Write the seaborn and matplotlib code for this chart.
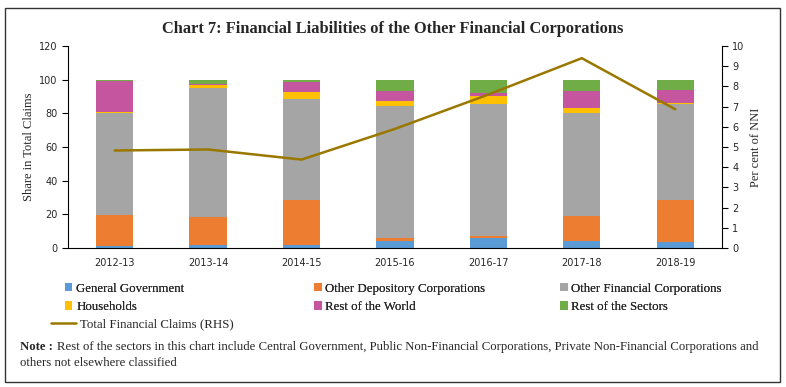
import numpy as np
import pandas as pd
import seaborn as sns
import matplotlib.pyplot as plt
from matplotlib.patches import Patch, Rectangle
from matplotlib.lines import Line2D

years = ['2012-13', '2013-14', '2014-15', '2015-16', '2016-17', '2017-18', '2018-19']
general_govt = [1.0, 1.6, 1.6, 4.0, 6.2, 4.4, 3.6]
other_depository = [18.4, 16.7, 27.2, 2.2, 1.1, 14.4, 24.8]
other_financial = [61.0, 76.5, 59.5, 77.9, 78.2, 61.4, 56.9]
households = [0.5, 2.0, 4.2, 3.4, 4.6, 2.9, 0.6]
rest_world = [18.6, 0.8, 6.1, 5.8, 1.8, 10.0, 7.8]
rest_sectors = [0.5, 2.4, 1.4, 6.7, 8.1, 6.9, 6.3]
total_claims = [4.83, 4.88, 4.38, 5.9, 7.6, 9.4, 6.87]

series_names = ['General Government', 'Other Depository Corporations', 'Other Financial Corporations',
                'Households', 'Rest of the World', 'Rest of the Sectors']
series_vals = [general_govt, other_depository, other_financial, households, rest_world, rest_sectors]
colors = ['#5B9BD5', '#ED7D31', '#A5A5A5', '#FFC000', '#C5559F', '#70AD47']
line_color = '#9A7800'

sns.set_style('white')
plt.rcParams['font.family'] = ['Liberation Serif', 'DejaVu Serif']

fig = plt.figure(figsize=(7.86, 3.87), dpi=100)
ax = fig.add_axes([0.0865, 0.359, 0.832, 0.522])

# cumulative stacks, drawn tallest first so lower pieces sit on top
df = pd.DataFrame(dict(zip(series_names, series_vals)), index=years)
cum = df.cumsum(axis=1)
for name, col in reversed(list(zip(series_names, colors))):
    sns.barplot(x=cum.index, y=cum[name].values, color=col, width=0.4, ax=ax,
                saturation=1, edgecolor='none', linewidth=0)

ax.set_xlabel('')
ax.set_ylim(0, 120)
ax.set_yticks(range(0, 121, 20))
ax.set_xlim(-0.5, len(years) - 0.5)
ax.set_xticks(range(len(years)))
ax.set_xticklabels(years)
ax.set_xticks(np.arange(-0.5, len(years), 1), minor=True)
ax.tick_params(axis='x', which='major', length=0, pad=7)
ax.tick_params(axis='x', which='minor', length=4, direction='out', color='black', width=0.8)
ax.tick_params(axis='y', length=4, direction='out', color='black', width=0.8, left=True)
for lab in ax.get_xticklabels() + ax.get_yticklabels():
    lab.set_fontfamily('DejaVu Sans')
    lab.set_fontsize(7)
ax.set_ylabel('Share in Total Claims', fontsize=9, labelpad=3)
ax.spines['top'].set_visible(False)
ax.spines['right'].set_visible(False)
for s in ['left', 'bottom']:
    ax.spines[s].set_color('black')
    ax.spines[s].set_linewidth(0.8)

ax2 = ax.twinx()
sns.lineplot(x=np.arange(len(years)), y=total_claims, ax=ax2, color=line_color, linewidth=1.8)
ax2.set_ylim(0, 10)
ax2.set_yticks(range(0, 11))
ax2.set_ylabel('Per cent of NNI', fontsize=9)
ax2.tick_params(axis='y', length=4, direction='out', color='black', width=0.8, right=True)
for lab in ax2.get_yticklabels():
    lab.set_fontfamily('DejaVu Sans')
    lab.set_fontsize(7)
ax2.spines['top'].set_visible(False)
ax2.spines['left'].set_visible(False)
ax2.spines['bottom'].set_visible(False)
ax2.spines['right'].set_color('black')
ax2.spines['right'].set_linewidth(0.8)

fig.text(0.5, 0.925, 'Chart 7: Financial Liabilities of the Other Financial Corporations',
         ha='center', va='center', fontsize=11.8, fontweight='bold')

# legend: one small legend per column so columns sit at fixed x positions
col_x = [0.083, 0.400, 0.713]
for c, x0 in enumerate(col_x):
    idx = [c, c + 3]
    lg = fig.legend([Patch(facecolor=colors[i], edgecolor='none') for i in idx],
                    [series_names[i] for i in idx], loc='upper left', bbox_to_anchor=(x0, 0.270),
                    frameon=False, fontsize=9.3, handlelength=0.55, handleheight=0.6,
                    handletextpad=0.3, labelspacing=0.5, borderaxespad=0, borderpad=0)
    fig.add_artist(lg)
fig.legend([Line2D([0], [0], color=line_color, lw=1.8)], ['Total Financial Claims (RHS)'],
           loc='upper left', bbox_to_anchor=(0.065, 0.178), frameon=False, fontsize=9.3,
           handlelength=1.9, handletextpad=0.3, borderaxespad=0, borderpad=0)

fig.canvas.draw()
note_b = fig.text(0.025, 0.103, 'Note :', fontsize=9.2, fontweight='bold', va='center')
bb = note_b.get_window_extent(fig.canvas.get_renderer())
x_after = (bb.x1 + 4) / fig.bbox.width
fig.text(x_after, 0.103, 'Rest of the sectors in this chart include Central Government, Public Non-Financial Corporations, Private Non-Financial Corporations and',
         fontsize=9.2, va='center')
fig.text(0.025, 0.062, 'others not elsewhere classified', fontsize=9.2, va='center')

fig.patches.append(Rectangle((0.006, 0.012), 0.987, 0.967, transform=fig.transFigure,
                             fill=False, edgecolor='#333333', linewidth=1.0))

fig.savefig('out.png', dpi=100)
